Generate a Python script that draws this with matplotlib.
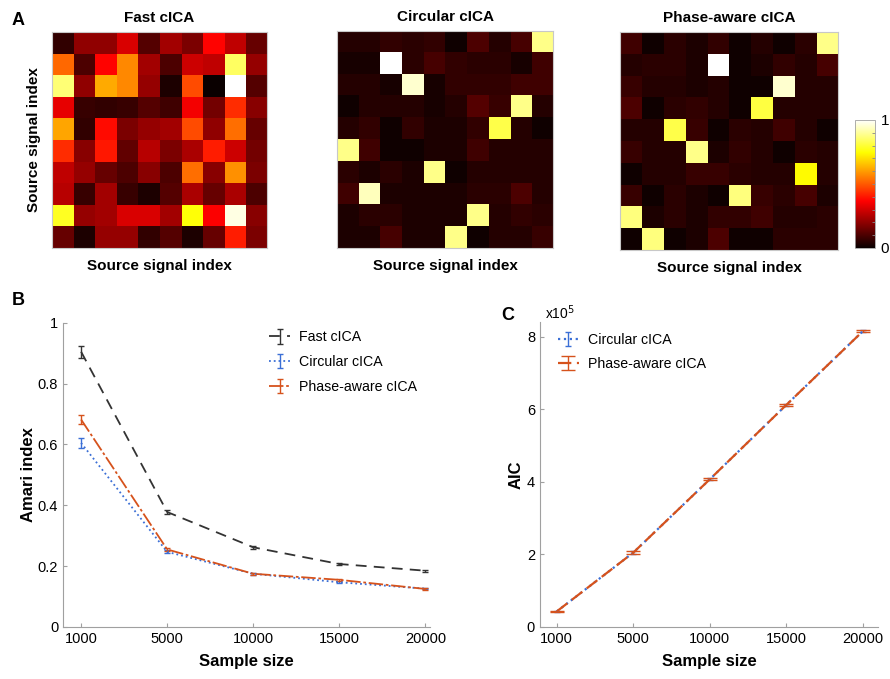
import numpy as np
import matplotlib.pyplot as plt

plt.rcParams['font.family'] = ['Liberation Sans', 'DejaVu Sans']

# ---- data ----
titles = ['Fast cICA', 'Circular cICA', 'Phase-aware cICA']

fast_mat = [
    [0.06, 0.20, 0.20, 0.31, 0.11, 0.23, 0.17, 0.37, 0.27, 0.14],
    [0.52, 0.10, 0.37, 0.57, 0.23, 0.10, 0.29, 0.27, 0.84, 0.21],
    [0.86, 0.20, 0.62, 0.57, 0.21, 0.03, 0.48, 0.00, 1.00, 0.11],
    [0.33, 0.07, 0.06, 0.07, 0.11, 0.08, 0.35, 0.16, 0.43, 0.19],
    [0.61, 0.06, 0.38, 0.17, 0.21, 0.23, 0.48, 0.20, 0.53, 0.14],
    [0.43, 0.19, 0.40, 0.13, 0.26, 0.17, 0.24, 0.41, 0.29, 0.16],
    [0.27, 0.21, 0.14, 0.10, 0.19, 0.10, 0.53, 0.19, 0.58, 0.17],
    [0.26, 0.07, 0.23, 0.07, 0.03, 0.11, 0.24, 0.14, 0.24, 0.10],
    [0.78, 0.21, 0.23, 0.31, 0.31, 0.23, 0.75, 0.36, 0.97, 0.19],
    [0.14, 0.03, 0.21, 0.21, 0.06, 0.11, 0.03, 0.14, 0.41, 0.17],
]

circ_mat = [
    [0.04, 0.04, 0.06, 0.05, 0.06, 0.01, 0.10, 0.04, 0.09, 0.88],
    [0.02, 0.02, 1.00, 0.05, 0.09, 0.06, 0.05, 0.05, 0.02, 0.08],
    [0.04, 0.04, 0.02, 0.95, 0.02, 0.06, 0.06, 0.06, 0.08, 0.08],
    [0.01, 0.04, 0.04, 0.04, 0.02, 0.04, 0.11, 0.07, 0.88, 0.04],
    [0.04, 0.06, 0.01, 0.06, 0.03, 0.03, 0.06, 0.82, 0.04, 0.01],
    [0.88, 0.08, 0.01, 0.01, 0.03, 0.03, 0.08, 0.04, 0.04, 0.04],
    [0.05, 0.03, 0.05, 0.03, 0.88, 0.01, 0.04, 0.04, 0.04, 0.04],
    [0.08, 0.93, 0.03, 0.03, 0.03, 0.03, 0.05, 0.05, 0.10, 0.04],
    [0.03, 0.05, 0.05, 0.03, 0.03, 0.03, 0.88, 0.04, 0.06, 0.05],
    [0.03, 0.03, 0.09, 0.03, 0.03, 0.88, 0.01, 0.04, 0.04, 0.07],
]

phase_mat = [
    [0.08, 0.01, 0.05, 0.03, 0.06, 0.01, 0.04, 0.01, 0.05, 0.88],
    [0.04, 0.05, 0.05, 0.03, 1.00, 0.01, 0.03, 0.06, 0.04, 0.09],
    [0.07, 0.04, 0.04, 0.03, 0.04, 0.01, 0.01, 0.95, 0.04, 0.04],
    [0.10, 0.01, 0.05, 0.06, 0.04, 0.01, 0.81, 0.04, 0.04, 0.04],
    [0.04, 0.04, 0.82, 0.07, 0.01, 0.05, 0.04, 0.08, 0.04, 0.01],
    [0.07, 0.04, 0.04, 0.88, 0.03, 0.06, 0.04, 0.01, 0.05, 0.04],
    [0.01, 0.04, 0.04, 0.07, 0.07, 0.05, 0.04, 0.04, 0.74, 0.04],
    [0.07, 0.01, 0.05, 0.03, 0.01, 0.87, 0.07, 0.05, 0.09, 0.03],
    [0.87, 0.03, 0.05, 0.03, 0.06, 0.06, 0.08, 0.04, 0.04, 0.05],
    [0.01, 0.87, 0.01, 0.03, 0.10, 0.01, 0.01, 0.05, 0.05, 0.05],
]

sample_sizes = ['1000', '5000', '10000', '15000', '20000']

amari_fast = [0.905, 0.378, 0.262, 0.207, 0.185]
amari_fast_err = [0.02, 0.006, 0.004, 0.003, 0.003]
amari_circ = [0.605, 0.247, 0.175, 0.147, 0.126]
amari_circ_err = [0.017, 0.005, 0.003, 0.003, 0.002]
amari_phase = [0.682, 0.255, 0.175, 0.155, 0.125]
amari_phase_err = [0.015, 0.005, 0.003, 0.004, 0.002]

aic_circ = [0.43, 2.05, 4.07, 6.12, 8.15]      # x10^5
aic_circ_err = [0.02, 0.03, 0.03, 0.03, 0.03]
aic_phase = [0.43, 2.05, 4.07, 6.12, 8.15]     # x10^5
aic_phase_err = [0.02, 0.03, 0.03, 0.03, 0.03]

c_fast = '#333333'
c_circ = '#3b6fd6'
c_phase = '#d6521c'
spine_c = '#a0a0a0'

fig = plt.figure(figsize=(8.9, 6.79), dpi=100)

# ---- panel A: heatmaps ----
boxes = [[0.0584, 0.6348, 0.2416, 0.318],
         [0.3787, 0.6348, 0.2427, 0.3196],
         [0.6966, 0.6318, 0.245, 0.321]]
for k, (mat, t) in enumerate(zip([fast_mat, circ_mat, phase_mat], titles)):
    ax = fig.add_axes(boxes[k])
    im = ax.imshow(np.array(mat), cmap='hot', vmin=0, vmax=1,
                   aspect='auto', interpolation='nearest')
    ax.set_xticks([])
    ax.set_yticks([])
    for s in ax.spines.values():
        s.set_color('#c8c8c8')
        s.set_linewidth(0.8)
    ax.set_title(t, fontsize=11, fontweight='bold', pad=7)
    ax.set_xlabel('Source signal index', fontsize=11, fontweight='bold', labelpad=8)
    if k == 0:
        ax.set_ylabel('Source signal index', fontsize=11, fontweight='bold', labelpad=8)

cax = fig.add_axes([0.9607, 0.6348, 0.0225, 0.1885])
cb = fig.colorbar(im, cax=cax, ticks=[0, 1])
cb.ax.set_yticklabels(['0', '1'])
cb.ax.tick_params(labelsize=11, length=0, pad=4)
cb.ax.set_yticks(np.arange(0.1, 1.0, 0.1), minor=True)
cb.ax.tick_params(which='minor', direction='in', length=2, color='#888888')
cb.outline.set_edgecolor('#a0a0a0')
cb.outline.set_linewidth(0.6)

x = np.arange(1, len(sample_sizes) + 1)


def style_axes(ax):
    for s in ['top', 'right']:
        ax.spines[s].set_visible(False)
    for s in ['left', 'bottom']:
        ax.spines[s].set_color(spine_c)
        ax.spines[s].set_linewidth(0.8)
    ax.tick_params(direction='in', length=3, color=spine_c, labelsize=10.5)
    ax.set_xticks(x)
    ax.set_xticklabels(sample_sizes)
    ax.set_xlabel('Sample size', fontsize=12, fontweight='bold', labelpad=6)


# ---- panel B ----
axb = fig.add_axes([0.0708, 0.0766, 0.412, 0.448])
axb.errorbar(x, amari_fast, yerr=amari_fast_err, color=c_fast, ls=(0, (6, 4)),
             lw=1.3, capsize=2.5, elinewidth=1, label='Fast cICA')
axb.errorbar(x, amari_circ, yerr=amari_circ_err, color=c_circ, ls=':',
             lw=1.3, capsize=2.5, elinewidth=1, label='Circular cICA')
axb.errorbar(x, amari_phase, yerr=amari_phase_err, color=c_phase, ls=(0, (8, 1.5, 1.5, 1.5)),
             lw=1.3, capsize=2.5, elinewidth=1, label='Phase-aware cICA')
axb.set_xlim(0.79, 5.05)
axb.set_ylim(0, 1)
axb.set_yticks([0, 0.2, 0.4, 0.6, 0.8, 1])
axb.set_yticklabels(['0', '0.2', '0.4', '0.6', '0.8', '1'])
style_axes(axb)
axb.set_ylabel('Amari index', fontsize=12, fontweight='bold', labelpad=1)
axb.legend(loc='upper right', bbox_to_anchor=(1.0, 1.017), frameon=False, fontsize=10.2,
           handlelength=1.5, handletextpad=0.6, labelspacing=0.75)

# ---- panel C ----
axc = fig.add_axes([0.6067, 0.0766, 0.38, 0.449])
axc.errorbar(x, aic_circ, yerr=aic_circ_err, color=c_circ, ls=':',
             lw=1.6, capsize=2.5, elinewidth=1, label='Circular cICA')
axc.errorbar(x, aic_phase, yerr=aic_phase_err, color=c_phase, ls=(0, (6, 2.5)),
             lw=1.6, capsize=5, elinewidth=1, label='Phase-aware cICA')
axc.set_xlim(0.78, 5.2)
axc.set_ylim(0, 8.4)
axc.set_yticks([0, 2, 4, 6, 8])
style_axes(axc)
axc.set_ylabel('AIC', fontsize=12, fontweight='bold', labelpad=2)
axc.text(0.015, 1.0, 'x10$^5$', transform=axc.transAxes, fontsize=10, ha='left', va='bottom')
axc.legend(loc='upper left', bbox_to_anchor=(0.015, 1.007), frameon=False, fontsize=10.2,
           handlelength=1.5, handletextpad=0.6, labelspacing=0.75)

# panel letters
fig.text(0.013, 0.983, 'A', fontsize=13, fontweight='bold', va='top')
fig.text(0.013, 0.57, 'B', fontsize=13, fontweight='bold', va='top')
fig.text(0.563, 0.548, 'C', fontsize=13, fontweight='bold', va='top')

fig.savefig('out.png', dpi=100)
